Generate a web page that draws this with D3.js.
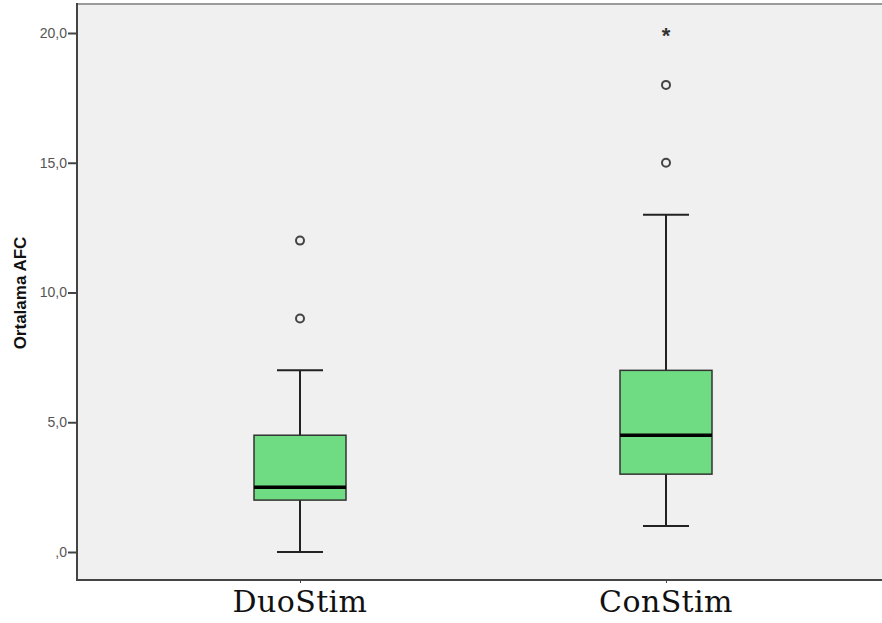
<!DOCTYPE html>
<html>
<head>
<meta charset="utf-8">
<script src="https://cdn.jsdelivr.net/npm/d3@7"></script>
<style>
  body { margin: 0; background: #fff; }
  svg { display: block; }
</style>
</head>
<body>
<div id="chart"></div>
<script>
// groups and their five-number summaries
var groups = ["DuoStim", "ConStim"];
var lowWhisker = [0, 1];
var q1 = [2, 3];
var medians = [2.5, 4.5];
var q3 = [4.5, 7];
var highWhisker = [7, 13];
var outliers = [[12, 9], [15, 18]];
var extremes = [[], [20]];
var yTicks = [0, 5, 10, 15, 20];

var width = 882, height = 623;
var plot = { left: 77, top: 3, right: 890, bottom: 580 };

var svg = d3.select("#chart").append("svg")
    .attr("width", width)
    .attr("height", height);

//plot background
svg.append("rect")
    .attr("x", plot.left)
    .attr("y", plot.top)
    .attr("width", plot.right - plot.left)
    .attr("height", plot.bottom - plot.top)
    .attr("fill", "#f0f0f0");

svg.append("line")
    .attr("x1", plot.left).attr("x2", width)
    .attr("y1", plot.top + 1).attr("y2", plot.top + 1)
    .attr("stroke", "#9a9a9a").attr("stroke-width", 2);

var y = d3.scaleLinear().domain([0, 20]).range([552, 33]);
var x = d3.scalePoint().domain(groups).range([300, 666]);

var boxWidth = 92, capWidth = 46;

// y axis
var yAxis = svg.append("g")
    .attr("transform", "translate(" + plot.left + ",0)")
    .call(d3.axisLeft(y)
        .tickValues(yTicks)
        .tickSize(9)
        .tickPadding(1)
        .tickFormat(function (d) { return d === 0 ? ",0" : d + ",0"; }));
yAxis.select(".domain").remove();
yAxis.selectAll(".tick line").attr("stroke", "#444").attr("stroke-width", 2);
yAxis.selectAll(".tick text")
    .attr("fill", "#555")
    .style("font-family", "Liberation Sans, Arial, sans-serif")
    .style("font-size", "14px");

svg.append("line")
    .attr("x1", plot.left).attr("x2", plot.left)
    .attr("y1", plot.top).attr("y2", plot.bottom + 1)
    .attr("stroke", "#444").attr("stroke-width", 2);

// x axis
var xAxis = svg.append("g")
    .attr("transform", "translate(0," + plot.bottom + ")")
    .call(d3.axisBottom(x).tickSize(3).tickFormat(""));
xAxis.select(".domain").remove();
xAxis.selectAll(".tick line").attr("stroke", "#444");

svg.append("line")
    .attr("x1", plot.left).attr("x2", width)
    .attr("y1", plot.bottom).attr("y2", plot.bottom)
    .attr("stroke", "#444").attr("stroke-width", 2);

//category labels
svg.selectAll(".cat")
    .data(groups)
    .enter().append("text")
    .attr("class", "cat")
    .attr("x", function (d) { return x(d); })
    .attr("y", 612)
    .attr("text-anchor", "middle")
    .style("font-family", "DejaVu Serif, serif")
    .style("font-size", "30px")
    .style("letter-spacing", "0.4px")
    .attr("fill", "#111")
    .text(function (d) { return d; });

// y title
svg.append("text")
    .attr("transform", "translate(26,293)rotate(-90)")
    .attr("text-anchor", "middle")
    .style("font-family", "Liberation Sans, Arial, sans-serif")
    .style("font-size", "17px")
    .style("font-weight", "bold")
    .attr("fill", "#111")
    .text("Ortalama AFC");

// boxes
var boxes = svg.selectAll(".box")
    .data(groups)
    .enter().append("g")
    .attr("class", "box");

boxes.append("line")
    .attr("x1", function (d) { return x(d); })
    .attr("x2", function (d) { return x(d); })
    .attr("y1", function (d, i) { return y(highWhisker[i]); })
    .attr("y2", function (d, i) { return y(lowWhisker[i]); })
    .attr("stroke", "#222").attr("stroke-width", 2);

[highWhisker, lowWhisker].forEach(function (vals) {
    boxes.append("line")
        .attr("x1", function (d) { return x(d) - capWidth / 2; })
        .attr("x2", function (d) { return x(d) + capWidth / 2; })
        .attr("y1", function (d, i) { return y(vals[i]); })
        .attr("y2", function (d, i) { return y(vals[i]); })
        .attr("stroke", "#222").attr("stroke-width", 2);
});

boxes.append("rect")
    .attr("x", function (d) { return x(d) - boxWidth / 2; })
    .attr("width", boxWidth)
    .attr("y", function (d, i) { return y(q3[i]); })
    .attr("height", function (d, i) { return y(q1[i]) - y(q3[i]); })
    .attr("fill", "#6fdb82")
    .attr("stroke", "#333").attr("stroke-width", 1.5);

boxes.append("line")
    .attr("x1", function (d) { return x(d) - boxWidth / 2; })
    .attr("x2", function (d) { return x(d) + boxWidth / 2; })
    .attr("y1", function (d, i) { return y(medians[i]); })
    .attr("y2", function (d, i) { return y(medians[i]); })
    .attr("stroke", "#000").attr("stroke-width", 3.5);

// outliers
groups.forEach(function (g, i) {
    svg.selectAll(".out" + i)
        .data(outliers[i])
        .enter().append("circle")
        .attr("cx", x(g))
        .attr("cy", function (d) { return y(d); })
        .attr("r", 4)
        .attr("fill", "none")
        .attr("stroke", "#444")
        .attr("stroke-width", 2);
    svg.selectAll(".ext" + i)
        .data(extremes[i])
        .enter().append("text")
        .attr("x", x(g))
        .attr("y", function (d) { return y(d) + 10; })
        .attr("text-anchor", "middle")
        .style("font-family", "Liberation Sans, Arial, sans-serif")
        .style("font-size", "22px")
        .style("font-weight", "bold")
        .attr("fill", "#333")
        .text("*");
});
</script>
</body>
</html>
